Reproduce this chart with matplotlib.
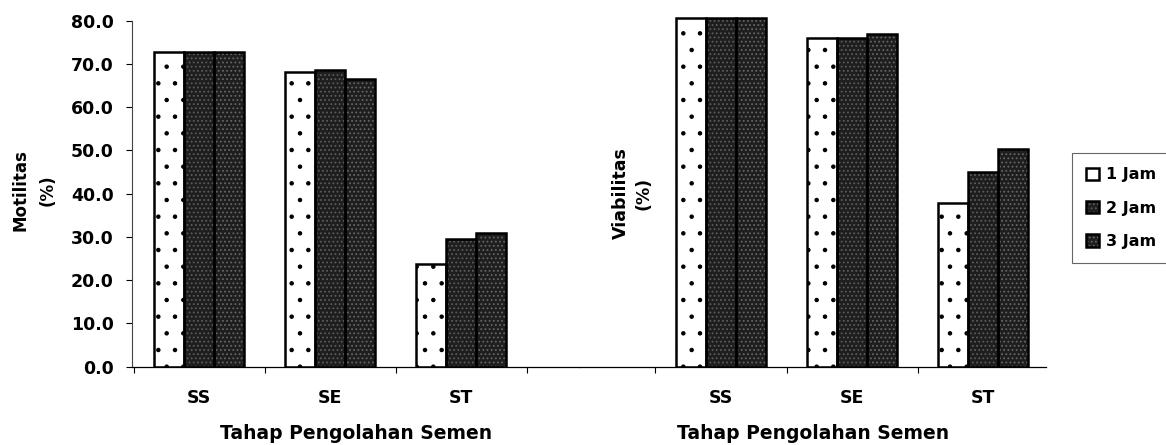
import numpy as np
import matplotlib.pyplot as plt
from matplotlib.legend_handler import HandlerTuple

# ---------------------------------------------------------------------------
# data
# ---------------------------------------------------------------------------
categories = ['SS', 'SE', 'ST']
series_labels = ['1 Jam', '2 Jam', '3 Jam']

motilitas_1jam = [72.7, 68.2, 23.7]
motilitas_2jam = [72.7, 68.7, 29.5]
motilitas_3jam = [72.8, 66.5, 31.0]

viabilitas_1jam = [80.6, 76.1, 37.8]
viabilitas_2jam = [80.7, 76.1, 45.1]
viabilitas_3jam = [80.7, 76.9, 50.3]

y_ticks = [0, 10, 20, 30, 40, 50, 60, 70, 80]

# look of each series: (face colour, hatch, hatch colour)
styles = [('white', '.', 'black'),
          ('#1e1e1e', '....', '#5c5c5c'),
          ('#1e1e1e', '....', '#666666')]

FONT = 'DejaVu Sans'
plt.rcParams['font.family'] = FONT
plt.rcParams['hatch.linewidth'] = 0.8

W, H = 1166, 445
fig = plt.figure(figsize=(W / 100, H / 100), dpi=100)


def px(x0, y_top, x1, y_bot):
    # pixel box -> figure fraction rectangle
    return [x0 / W, 1 - y_bot / H, (x1 - x0) / W, (y_bot - y_top) / H]


def draw_bars(ax, series_values):
    x = np.arange(len(categories))
    width = 0.229
    handles = []
    for i, vals in enumerate(series_values):
        face, hatch, hcol = styles[i]
        pos = x + (i - 1) * width
        fill = ax.bar(pos, vals, width, color=face, edgecolor=hcol, hatch=hatch,
                      linewidth=0, zorder=2)
        edge = ax.bar(pos, vals, width, fill=False, edgecolor='black',
                      linewidth=1.8, zorder=3)
        handles.append((fill, edge))
    ax.set_xticks(x)
    ax.set_xticklabels(categories, fontsize=12.5, fontweight='bold')
    ax.set_xticks(np.arange(-0.5, len(categories), 1.0), minor=True)
    ax.tick_params(axis='x', which='major', length=0, pad=16)
    ax.tick_params(axis='x', which='minor', length=4, width=0.8, direction='out')
    ax.spines['top'].set_visible(False)
    ax.spines['right'].set_visible(False)
    ax.spines['bottom'].set_linewidth(0.9)
    ax.set_xlabel('Tahap Pengolahan Semen', fontsize=13.5, fontweight='bold', labelpad=12)
    return handles


# left panel: motilitas
ax1 = fig.add_axes(px(131.7, 20.7, 580, 366.7))
handles = draw_bars(ax1, [motilitas_1jam, motilitas_2jam, motilitas_3jam])
ax1.set_xlim(-0.514, 2.908)
ax1.set_ylim(0, 80)
ax1.set_yticks(y_ticks)
ax1.set_yticklabels([f'{v:.1f}' for v in y_ticks], fontsize=12.5, fontweight='bold')
ax1.tick_params(axis='y', length=4, width=0.8, pad=9)
ax1.spines['left'].set_linewidth(0.8)
ax1.spines['left'].set_color('#444444')

fig.text(34 / W, 1 - 190 / H, 'Motilitas\n(%)', rotation=90, ha='center', va='center',
         fontsize=12, fontweight='bold', linespacing=1.7)

# right panel: viabilitas (its y axis is hidden behind the left chart in the scan)
ax2 = fig.add_axes(px(580, 12.05, 1046, 366.7))
draw_bars(ax2, [viabilitas_1jam, viabilitas_2jam, viabilitas_3jam])
ax2.set_xlim(-1.076, 2.48)
ax2.set_ylim(0, 82)
ax2.spines['left'].set_visible(False)
ax2.set_yticks([])

fig.text(632 / W, 1 - 193 / H, 'Viabilitas\n(%)', rotation=90, ha='center', va='center',
         fontsize=12.5, fontweight='bold', linespacing=1.3)

leg = fig.legend(handles, series_labels, loc='upper left',
                 bbox_to_anchor=(1072 / W, 1 - 153 / H), borderaxespad=0,
                 prop={'family': FONT, 'weight': 'bold', 'size': 11.5},
                 handlelength=0.8, handleheight=0.8, handletextpad=0.4,
                 labelspacing=1.15, borderpad=0.9, fancybox=False,
                 edgecolor='#666666', framealpha=1,
                 handler_map={tuple: HandlerTuple(ndivide=1, pad=0)})
leg.get_frame().set_linewidth(0.8)

fig.savefig('out.png', dpi=100)
